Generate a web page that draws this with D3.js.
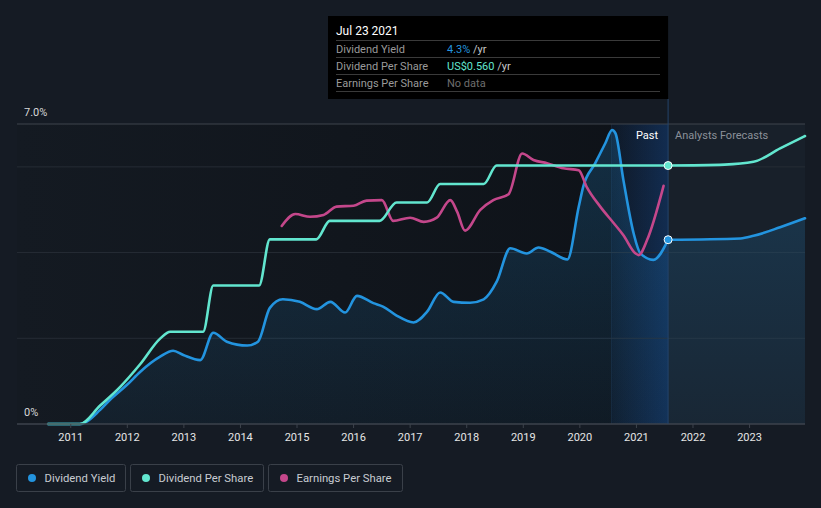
<!DOCTYPE html>
<html>
<head>
<meta charset="utf-8">
<script src="https://cdn.jsdelivr.net/npm/d3@7"></script>
<style>
  body { margin: 0; background: #151b24; }
  svg { display: block; font-family: Roboto, "Noto Sans", sans-serif; }
</style>
</head>
<body>
<div id="chart"></div>
<script>
// Dividend yield (%) by decimal year
const yieldYears = [2010.60, 2011.16, 2011.52, 2011.69, 2012.0, 2012.23, 2012.58, 2012.81, 2012.99, 2013.29, 2013.52,
  2013.76, 2014.12, 2014.31, 2014.52, 2014.75, 2015.05, 2015.35, 2015.59, 2015.85, 2016.06, 2016.35, 2016.52,
  2016.76, 2017.06, 2017.30, 2017.53, 2017.77, 2018.06, 2018.30, 2018.53, 2018.77, 2019.06, 2019.27, 2019.48,
  2019.78, 2019.98, 2020.06, 2020.27, 2020.45, 2020.57, 2020.63, 2020.77, 2020.95, 2021.07, 2021.30, 2021.56];
const yieldValues = [0, 0, 0.33, 0.56, 0.92, 1.22, 1.57, 1.71, 1.61, 1.49, 2.13,
  1.92, 1.83, 1.92, 2.71, 2.91, 2.85, 2.68, 2.85, 2.60, 2.99, 2.82, 2.74,
  2.53, 2.37, 2.62, 3.07, 2.85, 2.83, 2.91, 3.32, 4.10, 3.98, 4.12, 4.02,
  3.84, 5.07, 5.54, 6.08, 6.55, 6.86, 6.78, 5.69, 4.45, 3.98, 3.83, 4.30];
const yieldFcYears = [2021.56, 2022.84, 2023.07, 2023.54, 2023.98];
const yieldFcValues = [4.30, 4.33, 4.39, 4.59, 4.80];

// Dividend per share (US$)
const dpsYears = [2010.60, 2011.16, 2011.52, 2011.87, 2012.23, 2012.58, 2012.76, 2013.34, 2013.52, 2014.33, 2014.52,
  2015.34, 2015.58, 2016.46, 2016.76, 2017.30, 2017.53, 2018.30, 2018.53, 2021.56];
const dpsValues = [0, 0, 0.04, 0.08, 0.13, 0.185, 0.20, 0.20, 0.30, 0.30, 0.40,
  0.40, 0.44, 0.44, 0.48, 0.48, 0.52, 0.52, 0.56, 0.56];
const dpsFcYears = [2021.56, 2022.56, 2023.07, 2023.54, 2023.98];
const dpsFcValues = [0.56, 0.562, 0.568, 0.597, 0.624];

// Earnings per share (US$)
const epsYears = [2014.73, 2014.97, 2015.23, 2015.47, 2015.70, 2016.0, 2016.23, 2016.50, 2016.70, 2017.0, 2017.24,
  2017.47, 2017.71, 2017.83, 2017.97, 2018.24, 2018.47, 2018.74, 2018.98, 2019.18, 2019.42, 2019.71, 2019.98,
  2020.12, 2020.36, 2020.60, 2020.77, 2020.98, 2021.04, 2021.19, 2021.48];
const epsValues = [0.429, 0.455, 0.449, 0.453, 0.471, 0.473, 0.484, 0.485, 0.440, 0.447, 0.438,
  0.447, 0.485, 0.460, 0.419, 0.464, 0.485, 0.498, 0.586, 0.572, 0.565, 0.554, 0.550,
  0.514, 0.471, 0.435, 0.409, 0.370, 0.366, 0.399, 0.516];

const yieldTicks = [0, 7];
const gridTicks = [2, 4, 6];
const yearTicks = [2011, 2012, 2013, 2014, 2015, 2016, 2017, 2018, 2019, 2020, 2021, 2022, 2023];
const nowYear = 2021.56;
const legendItems = [
  { label: "Dividend Yield", color: "#2394df" },
  { label: "Dividend Per Share", color: "#62e6cf" },
  { label: "Earnings Per Share", color: "#c4478b" }
];

const width = 821, height = 508;
const plotLeft = 17, plotRight = 805, plotTop = 124, plotBottom = 424;

const svg = d3.select("#chart").append("svg")
  .attr("width", width)
  .attr("height", height);

const defs = svg.append("defs");
const pastGrad = defs.append("linearGradient").attr("id", "pastBg");
pastGrad.append("stop").attr("offset", "0%").attr("stop-color", "#141a22");
pastGrad.append("stop").attr("offset", "100%").attr("stop-color", "#0e1218");

const bandGrad = defs.append("linearGradient").attr("id", "band");
bandGrad.append("stop").attr("offset", "0%").attr("stop-color", "#1a64c8").attr("stop-opacity", 0.08);
bandGrad.append("stop").attr("offset", "100%").attr("stop-color", "#1a64c8").attr("stop-opacity", 0.32);

const areaGrad = defs.append("linearGradient").attr("id", "areaFill")
  .attr("gradientUnits", "userSpaceOnUse")
  .attr("x1", 0).attr("x2", 0).attr("y1", plotTop).attr("y2", plotBottom);
areaGrad.append("stop").attr("offset", "0%").attr("stop-color", "#2394df").attr("stop-opacity", 0.22);
areaGrad.append("stop").attr("offset", "100%").attr("stop-color", "#2394df").attr("stop-opacity", 0.06);

const x = d3.scaleLinear().domain([2010.05, 2023.98]).range([plotLeft, plotRight]);
const yPct = d3.scaleLinear().domain([0, 7]).range([plotBottom, plotTop]);
const yDps = d3.scaleLinear().domain([0, 0.65]).range([plotBottom, plotTop]);

const xNow = x(nowYear);

// backgrounds
svg.append("rect")
  .attr("x", plotLeft).attr("y", plotTop)
  .attr("width", xNow - plotLeft).attr("height", plotBottom - plotTop)
  .attr("fill", "url(#pastBg)");
svg.append("rect")
  .attr("x", xNow).attr("y", plotTop)
  .attr("width", plotRight - xNow).attr("height", plotBottom - plotTop)
  .attr("fill", "#18202a");
svg.append("rect")
  .attr("x", x(nowYear - 1)).attr("y", plotTop)
  .attr("width", xNow - x(nowYear - 1)).attr("height", plotBottom - plotTop)
  .attr("fill", "url(#band)");
svg.append("line")
  .attr("x1", x(nowYear - 1)).attr("x2", x(nowYear - 1))
  .attr("y1", plotTop).attr("y2", plotBottom)
  .attr("stroke", "#1a2c42").attr("stroke-width", 1)
  .attr("stroke-opacity", 0.6);

// gridlines
svg.selectAll("line.grid")
  .data(gridTicks)
  .enter()
  .append("line")
  .attr("class", "grid")
  .attr("x1", plotLeft).attr("x2", plotRight)
  .attr("y1", d => yPct(d)).attr("y2", d => yPct(d))
  .attr("stroke", "#262c35").attr("stroke-width", 1);

svg.append("line")
  .attr("x1", plotLeft).attr("x2", plotRight)
  .attr("y1", yPct(7)).attr("y2", yPct(7))
  .attr("stroke", "#3f444d").attr("stroke-width", 1);

// y labels
svg.selectAll("text.ylab")
  .data(yieldTicks)
  .enter()
  .append("text")
  .attr("class", "ylab")
  .attr("x", 24)
  .attr("y", d => yPct(d) - 8)
  .attr("fill", "#d8d8d8")
  .style("font-size", "11px")
  .text(d => d === 0 ? "0%" : d.toFixed(1) + "%");

// area + lines
const yieldPts = yieldYears.map((t, i) => ({ t, v: yieldValues[i] }));
const yieldFcPts = yieldFcYears.map((t, i) => ({ t, v: yieldFcValues[i] }));
const dpsPts = dpsYears.map((t, i) => ({ t, v: dpsValues[i] }));
const dpsFcPts = dpsFcYears.map((t, i) => ({ t, v: dpsFcValues[i] }));
const epsPts = epsYears.map((t, i) => ({ t, v: epsValues[i] }));

const area = d3.area()
  .x(d => x(d.t))
  .y0(plotBottom)
  .y1(d => yPct(d.v))
  .curve(d3.curveMonotoneX);

svg.append("path").attr("d", area(yieldPts)).attr("fill", "url(#areaFill)");
svg.append("path").attr("d", area(yieldFcPts)).attr("fill", "url(#areaFill)");

const linePct = d3.line().x(d => x(d.t)).y(d => yPct(d.v)).curve(d3.curveMonotoneX);
const lineDps = d3.line().x(d => x(d.t)).y(d => yDps(d.v)).curve(d3.curveMonotoneX);

function drawLine(d, color) {
  svg.append("path")
    .attr("d", d)
    .attr("fill", "none")
    .attr("stroke", color)
    .attr("stroke-width", 2.6)
    .attr("stroke-linecap", "round")
    .attr("stroke-linejoin", "round");
}

drawLine(linePct(yieldPts), "#2394df");
drawLine(linePct(yieldFcPts), "#2394df");
drawLine(lineDps(epsPts), "#c4478b");
drawLine(lineDps(dpsPts), "#62e6cf");
drawLine(lineDps(dpsFcPts), "#62e6cf");

// x axis
svg.append("line")
  .attr("x1", plotLeft).attr("x2", plotRight)
  .attr("y1", plotBottom).attr("y2", plotBottom)
  .attr("stroke", "#3d434c").attr("stroke-width", 1.5);

svg.selectAll("line.tick")
  .data(yearTicks)
  .enter()
  .append("line")
  .attr("x1", d => x(d)).attr("x2", d => x(d))
  .attr("y1", plotBottom).attr("y2", plotBottom + 4)
  .attr("stroke", "#3d434c").attr("stroke-width", 1);

svg.selectAll("text.xlab")
  .data(yearTicks)
  .enter()
  .append("text")
  .attr("x", d => x(d))
  .attr("y", 441)
  .attr("text-anchor", "middle")
  .attr("fill", "#e6e6e6")
  .style("font-size", "11px")
  .text(d => d);

// now line, labels and markers
svg.append("line")
  .attr("x1", xNow).attr("x2", xNow)
  .attr("y1", 99).attr("y2", plotBottom)
  .attr("stroke", "#24436a").attr("stroke-width", 1);

svg.append("text")
  .attr("x", xNow - 10).attr("y", 139)
  .attr("text-anchor", "end")
  .attr("fill", "#ffffff")
  .style("font-size", "11px")
  .text("Past");
svg.append("text")
  .attr("x", xNow + 7).attr("y", 139)
  .attr("fill", "#8b9099")
  .style("font-size", "11px")
  .text("Analysts Forecasts");

svg.append("circle")
  .attr("cx", xNow).attr("cy", yDps(0.56)).attr("r", 4)
  .attr("fill", "#62e6cf").attr("stroke", "#ffffff").attr("stroke-width", 1);
svg.append("circle")
  .attr("cx", xNow).attr("cy", yPct(4.3)).attr("r", 4)
  .attr("fill", "#2394df").attr("stroke", "#ffffff").attr("stroke-width", 1);

// tooltip
const tip = svg.append("g");
tip.append("rect")
  .attr("x", 328).attr("y", 16)
  .attr("width", xNow - 328).attr("height", 83)
  .attr("fill", "#000000");
tip.append("text")
  .attr("x", 336).attr("y", 35)
  .attr("fill", "#ffffff")
  .style("font-size", "12px")
  .text("Jul 23 2021");

const tipRows = [
  { label: "Dividend Yield", value: "4.3%", unit: " /yr", color: "#2394df" },
  { label: "Dividend Per Share", value: "US$0.560", unit: " /yr", color: "#62e6cf" },
  { label: "Earnings Per Share", value: "No data", unit: "", color: "#6e6e6e" }
];
[40.5, 57.5, 74.5, 91.5].forEach(yy => {
  tip.append("line")
    .attr("x1", 336).attr("x2", 660)
    .attr("y1", yy).attr("y2", yy)
    .attr("stroke", "#3a3a3a").attr("stroke-width", 1);
});
tipRows.forEach((r, i) => {
  const yy = 52.5 + i * 17;
  tip.append("text")
    .attr("x", 336).attr("y", yy)
    .attr("fill", "#9a9a9a")
    .style("font-size", "11px")
    .text(r.label);
  const t = tip.append("text")
    .attr("x", 447).attr("y", yy)
    .style("font-size", "11px");
  t.append("tspan").attr("fill", r.color).text(r.value);
  if (r.unit) t.append("tspan").attr("fill", "#c8c8c8").text(r.unit);
});

// legend
const legendX = [16.5, 130.5, 268.5];
const legendW = [109, 133, 134];
legendItems.forEach((d, i) => {
  const g = svg.append("g").attr("transform", `translate(${legendX[i]},464.5)`);
  g.append("rect")
    .attr("width", legendW[i]).attr("height", 27)
    .attr("rx", 2)
    .attr("fill", "none")
    .attr("stroke", "#3a4049");
  g.append("circle")
    .attr("cx", 15.5).attr("cy", 13.5).attr("r", 4)
    .attr("fill", d.color);
  g.append("text")
    .attr("x", 28).attr("y", 17.5)
    .attr("fill", "#c8ccd2")
    .style("font-size", "11.3px")
    .text(d.label);
});
</script>
</body>
</html>
